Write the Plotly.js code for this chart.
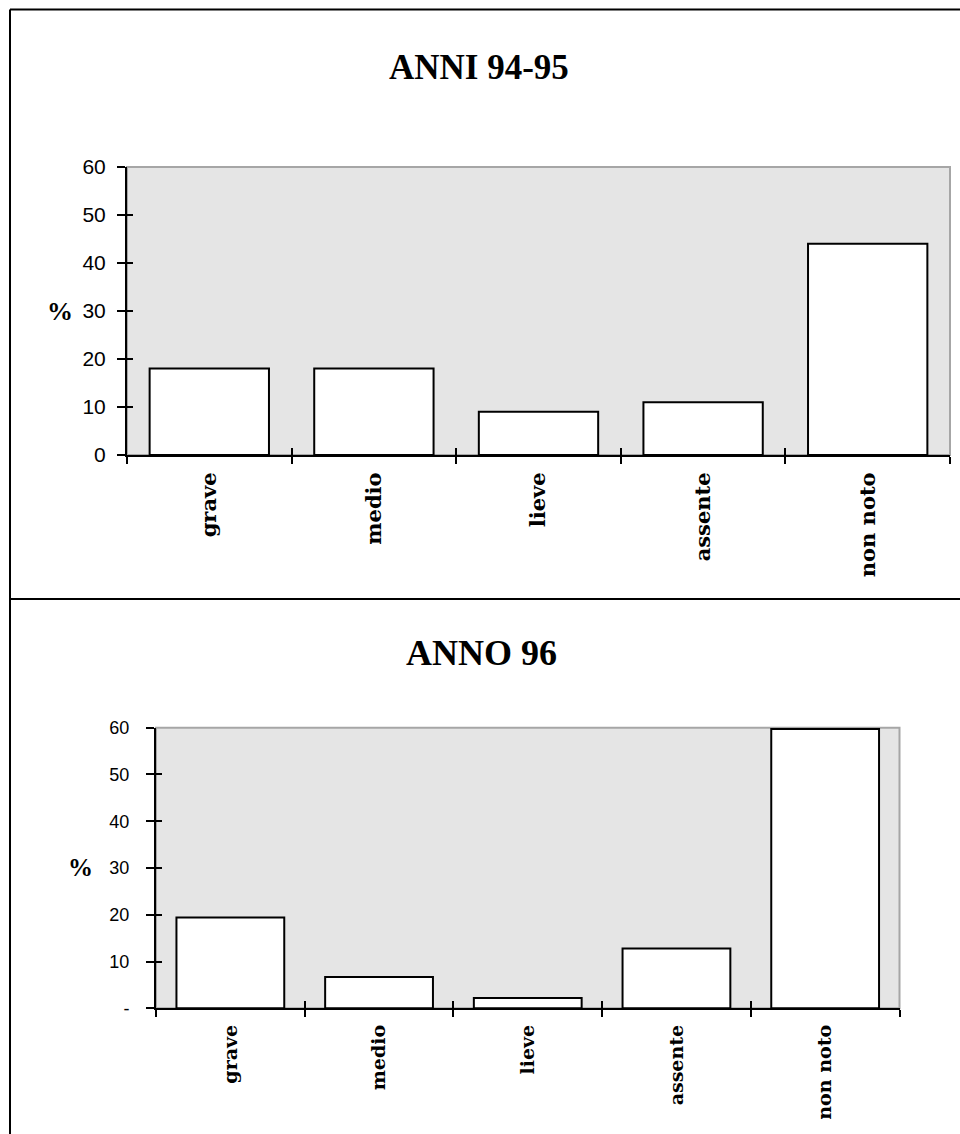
<!DOCTYPE html>
<html>
<head>
<meta charset="utf-8">
<script src="https://cdn.plot.ly/plotly-3.0.1.min.js"></script>
<style>
  html, body { margin: 0; padding: 0; background: #ffffff; }
  #chart { width: 960px; height: 1134px; }
</style>
</head>
<body>
<div id="chart"></div>
<script>
// Gravità del danno, distribuzione percentuale per periodo
const categories = ['grave', 'medio', 'lieve', 'assente', 'non noto'];
const valuesAnni9495 = [18, 18, 9, 11, 44];
const valuesAnno96 = [19.4, 6.7, 2.2, 12.8, 59.7];
const titleTop = 'ANNI 94-95';
const titleBottom = 'ANNO 96';
const yTickVals = [0, 10, 20, 30, 40, 50, 60];
const yTickTextTop = ['0', '10', '20', '30', '40', '50', '60'];
const yTickTextBottom = ['-', '10', '20', '30', '40', '50', '60'];
const yUnit = '%';

const W = 960, H = 1134;
const px = v => v / W;            // horizontal pixel -> paper fraction
const py = v => 1 - v / H;        // vertical pixel (from top) -> paper fraction

// category boundaries for the tick marks that straddle the x axis line
const boundaries = categories.map((_, i) => i - 0.5).concat([categories.length - 0.5]);

const barStyle = {
  type: 'bar',
  marker: { color: '#ffffff', line: { color: '#000000', width: 2 } },
  hoverinfo: 'x+y',
  showlegend: false
};

const data = [
  Object.assign({}, barStyle, { x: categories, y: valuesAnni9495, xaxis: 'x', yaxis: 'y' }),
  Object.assign({}, barStyle, { x: categories, y: valuesAnno96, xaxis: 'x2', yaxis: 'y2' }),
  // empty traces that only carry the overlay axes (inner half of the tick marks)
  { type: 'scatter', x: [], y: [], xaxis: 'x3', yaxis: 'y3', showlegend: false, hoverinfo: 'skip' },
  { type: 'scatter', x: [], y: [], xaxis: 'x4', yaxis: 'y4', showlegend: false, hoverinfo: 'skip' }
];

const catAxis = (domain, anchor, fontSize) => ({
  domain: domain, anchor: anchor, type: 'category',
  categoryorder: 'array', categoryarray: categories,
  range: [-0.5, categories.length - 0.5],
  tickson: 'boundaries', ticks: 'outside', ticklen: 7, tickwidth: 2, tickcolor: '#000',
  showline: true, linecolor: '#000', linewidth: 2,
  showgrid: false, zeroline: false, fixedrange: true,
  tickangle: -90, ticklabelstandoff: 7,
  tickfont: { family: 'DejaVu Serif', size: fontSize, color: '#000', weight: 'bold' }
});

const valAxis = (domain, anchor, ticktext, fontSize, standoff) => ({
  domain: domain, anchor: anchor, range: [0, 60], autorange: false,
  tickmode: 'array', tickvals: yTickVals, ticktext: ticktext,
  ticks: 'outside', ticklen: 8, tickwidth: 2, tickcolor: '#000',
  showline: true, linecolor: '#000', linewidth: 2,
  showgrid: false, zeroline: false, fixedrange: true,
  ticklabelstandoff: standoff,
  tickfont: { family: 'Liberation Sans', size: fontSize, color: '#000' }
});

const innerX = (over, anchor) => ({
  overlaying: over, anchor: anchor, type: 'linear',
  range: [-0.5, categories.length - 0.5], autorange: false,
  tickmode: 'array', tickvals: boundaries, showticklabels: false,
  ticks: 'inside', ticklen: 7, tickwidth: 2, tickcolor: '#000',
  showline: false, showgrid: false, zeroline: false, fixedrange: true
});

const innerY = (over, anchor) => ({
  overlaying: over, anchor: anchor, range: [0, 60], autorange: false,
  tickmode: 'array', tickvals: yTickVals, showticklabels: false,
  ticks: 'inside', ticklen: 6, tickwidth: 2, tickcolor: '#000',
  showline: false, showgrid: false, zeroline: false, fixedrange: true
});

const topX = [px(127), px(950)], topY = [py(455), py(167)];
const botX = [px(156), px(899.5)], botY = [py(1008.3), py(727.7)];

const frameLine = { color: '#000000', width: 2 };
const plotEdge = { color: '#a6a6a6', width: 2 };

const layout = {
  width: W, height: H,
  margin: { l: 0, r: 0, t: 0, b: 0, pad: 0 },
  paper_bgcolor: '#ffffff',
  plot_bgcolor: '#e5e5e5',
  bargap: 0.275,
  showlegend: false,
  xaxis: catAxis(topX, 'y', 21),
  yaxis: valAxis(topY, 'x', yTickTextTop, 21, 7),
  xaxis2: catAxis(botX, 'y2', 19),
  yaxis2: valAxis(botY, 'x2', yTickTextBottom, 18, 13),
  xaxis3: innerX('x', 'y3'),
  yaxis3: innerY('y', 'x3'),
  xaxis4: innerX('x2', 'y4'),
  yaxis4: innerY('y2', 'x4'),
  shapes: [
    // outer frame and divider between the two panels
    { type: 'line', xref: 'paper', yref: 'paper', x0: px(10), x1: 1, y0: py(9.5), y1: py(9.5), line: frameLine },
    { type: 'line', xref: 'paper', yref: 'paper', x0: px(10), x1: px(10), y0: py(9.5), y1: 0, line: frameLine },
    { type: 'line', xref: 'paper', yref: 'paper', x0: px(10), x1: 1, y0: py(599), y1: py(599), line: frameLine },
    // grey edge around each plot area
    { type: 'rect', xref: 'x domain', yref: 'y domain', x0: 0, x1: 1, y0: 0, y1: 1, line: plotEdge, layer: 'below' },
    { type: 'rect', xref: 'x2 domain', yref: 'y2 domain', x0: 0, x1: 1, y0: 0, y1: 1, line: plotEdge, layer: 'below' }
  ],
  annotations: [
    { text: titleTop, xref: 'paper', yref: 'paper', x: px(479), y: py(67), xanchor: 'center', yanchor: 'middle',
      showarrow: false, font: { family: 'Liberation Serif', size: 35, color: '#000', weight: 'bold' } },
    { text: titleBottom, xref: 'paper', yref: 'paper', x: px(481), y: py(653), xanchor: 'center', yanchor: 'middle',
      showarrow: false, font: { family: 'Liberation Serif', size: 36, color: '#000', weight: 'bold' } },
    { text: yUnit, xref: 'paper', yref: 'paper', x: px(60), y: py(311), xanchor: 'center', yanchor: 'middle',
      showarrow: false, font: { family: 'Liberation Serif', size: 26, color: '#000', weight: 'bold' } },
    { text: yUnit, xref: 'paper', yref: 'paper', x: px(80), y: py(867), xanchor: 'center', yanchor: 'middle',
      showarrow: false, font: { family: 'Liberation Serif', size: 25, color: '#000', weight: 'bold' } }
  ]
};

Plotly.newPlot('chart', data, layout, { displayModeBar: false, staticPlot: true });
</script>
</body>
</html>
